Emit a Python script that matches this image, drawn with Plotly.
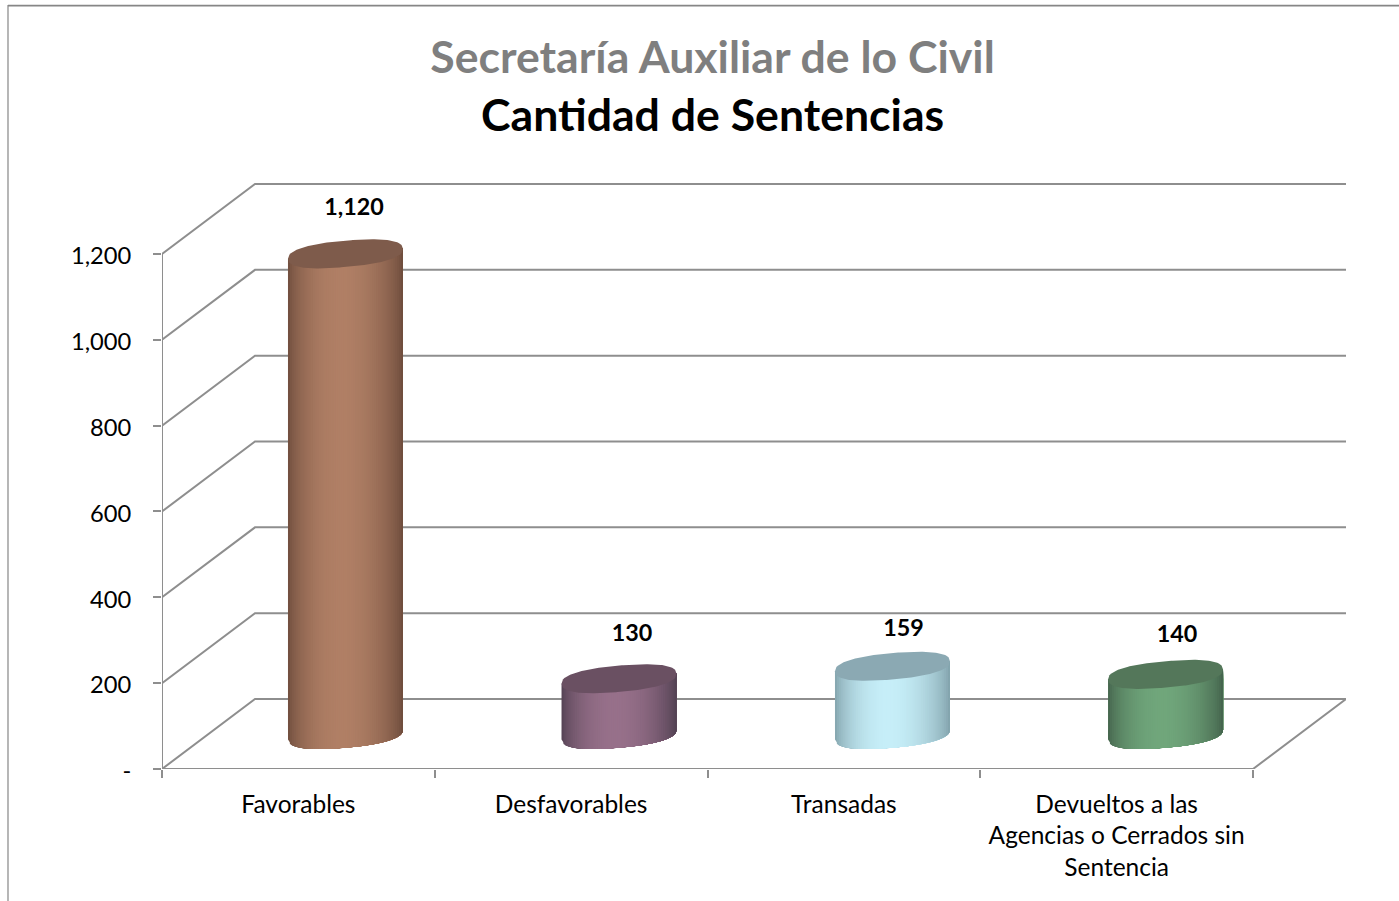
import math
import plotly.graph_objects as go

# ---- data ----
categories = ["Favorables", "Desfavorables", "Transadas",
              "Devueltos a las<br>Agencias o Cerrados sin<br>Sentencia"]
values = [1120, 130, 159, 140]
value_labels = ["1,120", "130", "159", "140"]
y_tick_values = [0, 200, 400, 600, 800, 1000, 1200]
y_tick_labels = ["-", "200", "400", "600", "800", "1,000", "1,200"]
title_line_1 = "Secretaría Auxiliar de lo Civil"
title_line_2 = "Cantidad de Sentencias"

# ---- styles ----
FONT = "Lato"
GRID = "#8e8e8e"
edge_colors = ["#6b4a3b", "#4f3f50", "#7f9fa8", "#42604a"]
mid_colors = ["#b07f65", "#97708a", "#c6eef8", "#70a67b"]
top_colors = ["#7e5b4b", "#6a5062", "#8ba9b3", "#54775a"]

# ---- page geometry: pixel scale of both axes ----
W, H = 1399, 901
PX_L, PX_R, PX_T, PX_B = 162, 1346, 180, 769.3
PX_PER_CAT = 272.75
PX_PER_VAL = (769.3 - 254) / 1200
N = len(categories)


def dx(px):
    return px / PX_PER_CAT


def dy(px):
    return px / PX_PER_VAL


DEPTH_X, DEPTH_Y = dx(93), dy(70)        # oblique offset of the back wall
BAR_SHIFT_X, BAR_SHIFT_Y = dx(47.5), dy(34.5)
BAR_NUDGE = [-0.4, 0.4, 1.1, 1.4]
R_X, R_Y, TILT = dx(57.5), dy(13.2), dy(5)
NOTE_DX = [8.5, 13, 11, 11.5]
NOTE_DY = [44.5, 43.5, 36.5, 38.5]
STRIPS = 60
ROUND = 2.4    # slightly squarer than a true ellipse, as in the reference

fig = go.Figure()


def line(xs, ys, width=2):
    fig.add_trace(go.Scatter(x=xs, y=ys, mode="lines", cliponaxis=False, hoverinfo="skip",
                             line=dict(color=GRID, width=width), showlegend=False))


# walls and floor
for v in y_tick_values:
    line([0, DEPTH_X, N + DEPTH_X], [v, v + DEPTH_Y, v + DEPTH_Y])
line([0, 0], [0, max(y_tick_values)])
line([0, N, N + DEPTH_X], [0, 0, DEPTH_Y])


def mix(a, b, t):
    ca = [int(a[i:i + 2], 16) for i in (1, 3, 5)]
    cb = [int(b[i:i + 2], 16) for i in (1, 3, 5)]
    return "#" + "".join(f"{round(p + (q - p) * t):02x}" for p, q in zip(ca, cb))


def ellipse_y(c, u, sign):
    # y on the tilted cap outline at horizontal position u in [-1, 1]; sign -1 = lower arc
    return c + TILT * u + sign * R_Y * max(0, 1 - abs(u) ** ROUND) ** (1 / ROUND)


for i, v in enumerate(values):
    cx = i + 0.5 + BAR_SHIFT_X + dx(BAR_NUDGE[i])
    y0 = BAR_SHIFT_Y
    y1 = v + BAR_SHIFT_Y
    # shaded side: painted left to right, each step reaching to the right edge
    for s in range(STRIPS):
        u0 = -1 + 2 * s / STRIPS
        um = u0 + 1 / STRIPS
        p = ((um + 1) / 2) ** 0.9
        t = math.sin(math.pi * p) ** 0.7
        col = mix(edge_colors[i], mid_colors[i], t)
        us = [u0 + (1 - u0) * k / 30 for k in range(31)]
        xs = [cx + R_X * u for u in us] + [cx + R_X, cx + R_X * u0, cx + R_X * u0]
        ys = [ellipse_y(y0, u, -1) for u in us] + [y1 + TILT, y1 + TILT * u0, ellipse_y(y0, u0, -1)]
        fig.add_trace(go.Scatter(x=xs, y=ys, mode="lines", fill="toself", fillcolor=col,
                                 line=dict(width=0), cliponaxis=False,
                                 hoverinfo="skip", showlegend=False))
    # top cap
    grid_u = [-1 + 2 * k / 80 for k in range(81)]
    cap_x = [cx + R_X * u for u in grid_u] + [cx + R_X * u for u in reversed(grid_u)]
    cap_y = [ellipse_y(y1, u, 1) for u in grid_u] + [ellipse_y(y1, u, -1) for u in reversed(grid_u)]
    fig.add_trace(go.Scatter(
        x=cap_x, y=cap_y,
        mode="lines", fill="toself", fillcolor=top_colors[i],
        line=dict(width=0), cliponaxis=False,
        hoverinfo="skip", showlegend=False))

# value labels
fig.add_trace(go.Scatter(
    x=[i + 0.5 + BAR_SHIFT_X + dx(BAR_NUDGE[i] + NOTE_DX[i]) for i in range(N)],
    y=[v + BAR_SHIFT_Y + dy(NOTE_DY[i]) for i, v in enumerate(values)],
    mode="text", text=[f"<b>{t}</b>" for t in value_labels], textposition="middle center",
    textfont=dict(family=FONT, size=23.3, color="#000000"), cliponaxis=False,
    hoverinfo="skip", showlegend=False))

plot_w = PX_R - PX_L
plot_h = PX_B - PX_T
fx = lambda px: (px - PX_L) / plot_w
fy = lambda px: (PX_B - px) / plot_h

fig.update_layout(
    width=W, height=H,
    margin=dict(l=PX_L, r=W - PX_R, t=PX_T, b=H - PX_B, pad=0),
    paper_bgcolor="#ffffff", plot_bgcolor="#ffffff",
    showlegend=False,
    font=dict(family=FONT, color="#000000"),
    title=dict(text=f"<b>{title_line_1}</b>", x=712.5 / W, xanchor="center",
               y=1 - 57 / H, yanchor="middle",
               font=dict(family=FONT, size=44.6, color="#7f7f7f")),
    annotations=[dict(text=f"<b>{title_line_2}</b>", xref="paper", yref="paper",
                      x=fx(712.5), y=fy(113), xanchor="center", yanchor="middle",
                      showarrow=False, font=dict(family=FONT, size=44.6, color="#000000"))],
    shapes=[
        dict(type="line", xref="paper", yref="paper", x0=fx(8), x1=fx(1399), y0=fy(5.5), y1=fy(5.5),
             line=dict(color="#868686", width=1.6)),
        dict(type="line", xref="paper", yref="paper", x0=fx(8), x1=fx(8), y0=fy(5), y1=fy(905),
             line=dict(color="#868686", width=1.2)),
    ],
    xaxis=dict(range=[0, plot_w / PX_PER_CAT], tickmode="array",
               tickvals=[i + 0.5 for i in range(N)], ticktext=categories,
               ticks="", showgrid=False, zeroline=False, showline=False,
               ticklabelstandoff=18,
               tickfont=dict(family=FONT, size=24.5, color="#000000"),
               minor=dict(tickmode="array", tickvals=list(range(N + 1)), ticks="outside",
                          ticklen=8, tickwidth=2, tickcolor=GRID, showgrid=False)),
    yaxis=dict(range=[0, plot_h / PX_PER_VAL], tickmode="array",
               tickvals=y_tick_values, ticktext=y_tick_labels,
               ticks="outside", ticklen=8, tickwidth=2, tickcolor=GRID,
               showgrid=False, zeroline=False, showline=False,
               ticklabelstandoff=17, ticklabelshift=2,
               tickfont=dict(family=FONT, size=23.7, color="#000000")),
)

fig.write_html("out.html",
               post_script="document.body.style.margin='0';document.body.style.overflow='hidden';"
                           "var s=document.createElement('style');"
                           "s.textContent='text{font-variant-ligatures:none}';"
                           "document.head.appendChild(s);",
               config=dict(displayModeBar=False))
